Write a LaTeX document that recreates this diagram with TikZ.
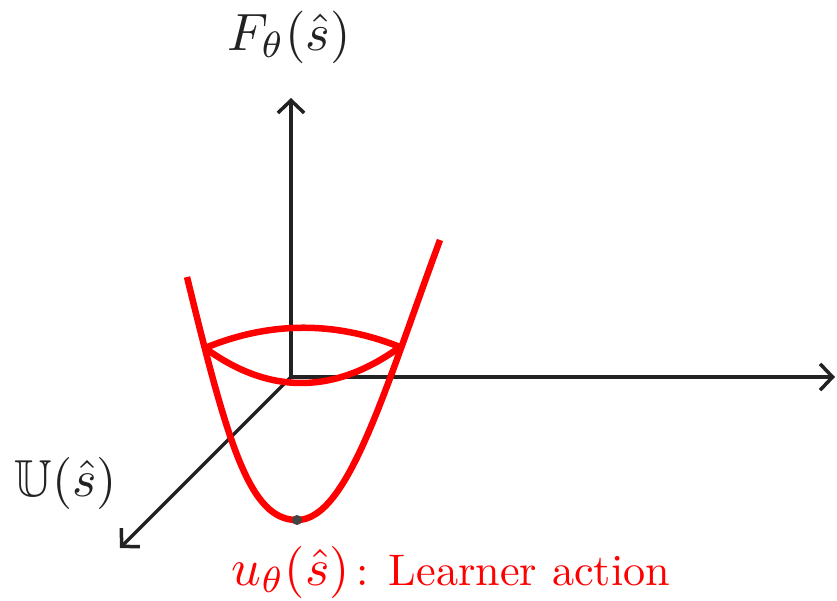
\documentclass[tikz,border=0pt]{standalone}
\usepackage{amssymb}
\usetikzlibrary{arrows.meta}
\definecolor{axisgray}{HTML}{222222}
\definecolor{dotgray}{HTML}{444444}
\tikzset{
  axisline/.style={draw=axisgray, line width=1.4pt, -{Straight Barb[length=5pt,width=10.5pt,line width=1.4pt]}},
  redcurve/.style={draw=red, line width=2.6pt},
  mathlabel/.style={inner sep=0pt},
}
\begin{document}
\begin{tikzpicture}[x=0.4pt,y=-0.4pt]
\useasboundingbox (0,0) rectangle (837,600);
\coordinate (O) at (291,377);
\coordinate (Ytop) at (291,98);
\coordinate (Xend) at (835,377);
\coordinate (Zend) at (120,548);
\draw[axisline] (O) -- (Ytop);
\draw[axisline] (O) -- (Xend);
\draw[axisline] (O) -- (Zend);
% parabola
\coordinate (PL) at (187,277);
\coordinate (PV) at (297,520);
\coordinate (PR) at (440,240);
\draw[redcurve] (PL) .. controls (228.5,447) and (250,520) .. (PV)
  .. controls (348,520) and (384.5,390) .. (PR);
% ellipse arcs
\coordinate (EL) at (205,348);
\coordinate (ER) at (400,347);
\draw[redcurve] (EL) .. controls (269.7,321.3) and (334.7,321) .. (ER);
\draw[redcurve] (EL) .. controls (269.7,395.3) and (334.7,394.3) .. (ER);
% minimum point
\fill[dotgray] (PV) circle (2pt);
% labels
\node[mathlabel, anchor=base, text=axisgray] (Flab) at (289,50) {\scalebox{2.1}{$F_{\theta}(\hat{s})$}};
\node[mathlabel, anchor=base, text=axisgray] (Ulab) at (66,496) {\scalebox{2.08}{$\mathbb{U}(\hat{s})$}};
\node[mathlabel, anchor=base west, text=red] (Llab) at (231,585) {\scalebox{2.08}{$u_{\theta}(\hat{s})$}\scalebox{1.77}{\,: Learner action}};
\end{tikzpicture}
\end{document}
